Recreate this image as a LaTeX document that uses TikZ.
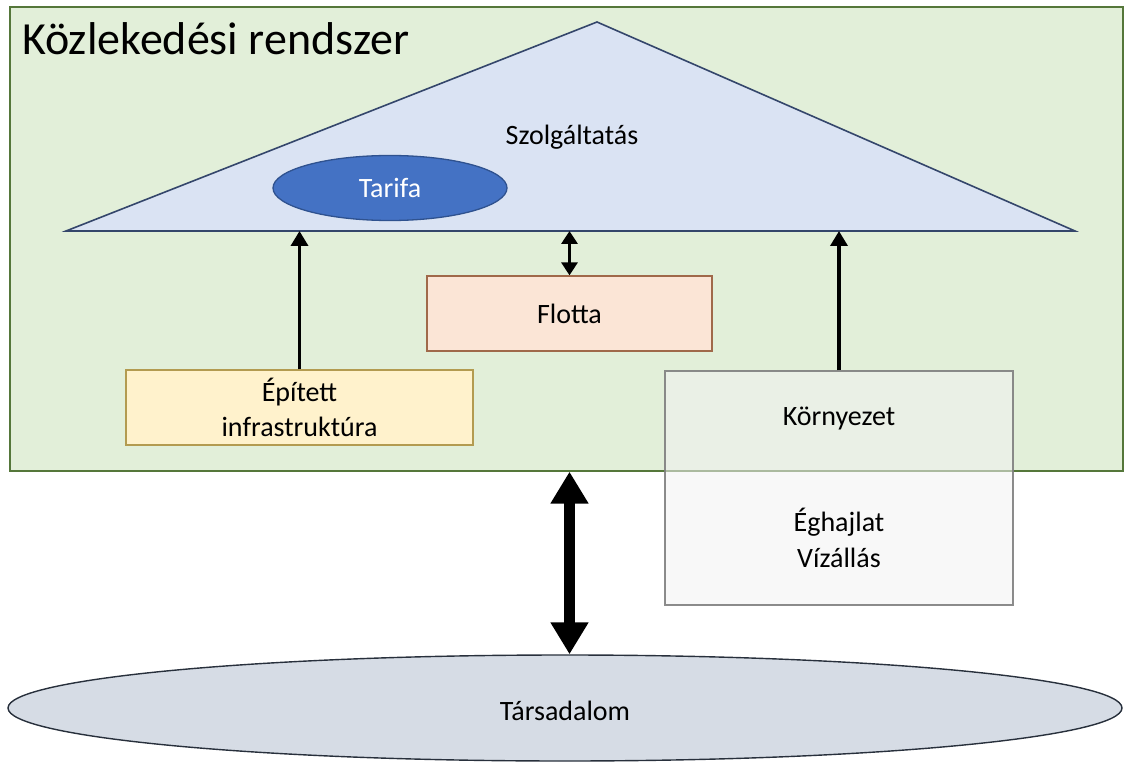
\documentclass[tikz,border=0pt]{standalone}
\usepackage{fontspec}
\setmainfont{Carlito}
\usetikzlibrary{arrows.meta,shapes.geometric}
\definecolor{sysfill}{HTML}{E2EFD9}
\definecolor{sysline}{HTML}{55773A}
\definecolor{trifill}{HTML}{DAE3F3}
\definecolor{triline}{HTML}{34466B}
\definecolor{tarfill}{HTML}{4472C4}
\definecolor{tarline}{HTML}{2F528F}
\definecolor{flofill}{HTML}{FBE5D6}
\definecolor{floline}{HTML}{A0694A}
\definecolor{inffill}{HTML}{FFF2CC}
\definecolor{infline}{HTML}{B39B50}
\definecolor{envfill}{HTML}{F2F2F2}
\definecolor{envline}{HTML}{7F7F7F}
\definecolor{socfill}{HTML}{D6DCE5}
\definecolor{socline}{HTML}{28303C}
\tikzset{
  lbl/.style={font=\fontsize{28}{34}\selectfont, text=black, align=center},
  boxstyle/.style={rectangle, inner sep=0pt, line width=1.3pt},
  thinarrow/.style={line width=3.5pt, -{Triangle[length=15pt,width=17pt]}},
  thindbl/.style={line width=3.5pt, {Triangle[length=13pt,width=16pt]}-{Triangle[length=13pt,width=16pt]}},
  bigdbl/.style={line width=11pt, {Triangle[length=32pt,width=36pt]}-{Triangle[length=32pt,width=36pt]}},
}
\begin{document}
\begin{tikzpicture}[x=1pt,y=-1pt]
\useasboundingbox (0,0) rectangle (1125,762);
% system
\node[boxstyle, draw=sysline, fill=sysfill, minimum width=1113pt, minimum height=464pt] (sys) at (566.5,239) {};
\node[font=\fontsize{46}{52}\selectfont, anchor=base west, inner sep=0pt] (title) at (22,55) {Közlekedési rendszer};
% triangle
\coordinate (apex) at (597,22);
\coordinate (bl) at (66,231);
\coordinate (br) at (1075,231);
\draw[fill=trifill, draw=triline, line width=1.6pt, line join=miter] (bl) -- (apex) -- (br) -- cycle;
\node[lbl] (szolg) at (572,137) {Szolgáltatás};
\node[ellipse, draw=tarline, fill=tarfill, line width=1.3pt, minimum width=234pt, minimum height=65pt, inner sep=0pt] (tarifa) at (390,188) {};
\node[lbl, text=white] at (tarifa.center) {Tarifa};
% flotta
\node[boxstyle, draw=floline, fill=flofill, minimum width=285pt, minimum height=75pt, lbl] (flotta) at (569.5,313.5) {Flotta};
% infra
\node[boxstyle, draw=infline, fill=inffill, minimum width=347pt, minimum height=75pt, lbl, font=\fontsize{28}{35}\selectfont] (infra) at (299.5,407.5) {Épített\\infrastruktúra};
% environment
\node[boxstyle, draw=envline, fill=envfill, fill opacity=0.55, draw opacity=0.9, minimum width=348pt, minimum height=234pt] (env) at (839,488) {};
\node[lbl] (korny) at (839,418) {Környezet};
\node[lbl, font=\fontsize{28}{36}\selectfont] (eghaj) at (839,538) {Éghajlat\\Vízállás};
% society
\node[ellipse, draw=socline, fill=socfill, line width=1.4pt, minimum width=1114pt, minimum height=106pt, inner sep=0pt] (soc) at (565,708) {};
\node[lbl] (tars) at (565,711) {Társadalom};
% arrows
\draw[thinarrow] (infra.north) -- (infra.north |- bl);
\draw[thinarrow] (env.north) -- (env.north |- br);
\draw[thindbl] (flotta.north |- bl) -- (flotta.north);
\draw[bigdbl] (flotta.south |- sys.south) -- (flotta.south |- soc.north);
\end{tikzpicture}
\end{document}
